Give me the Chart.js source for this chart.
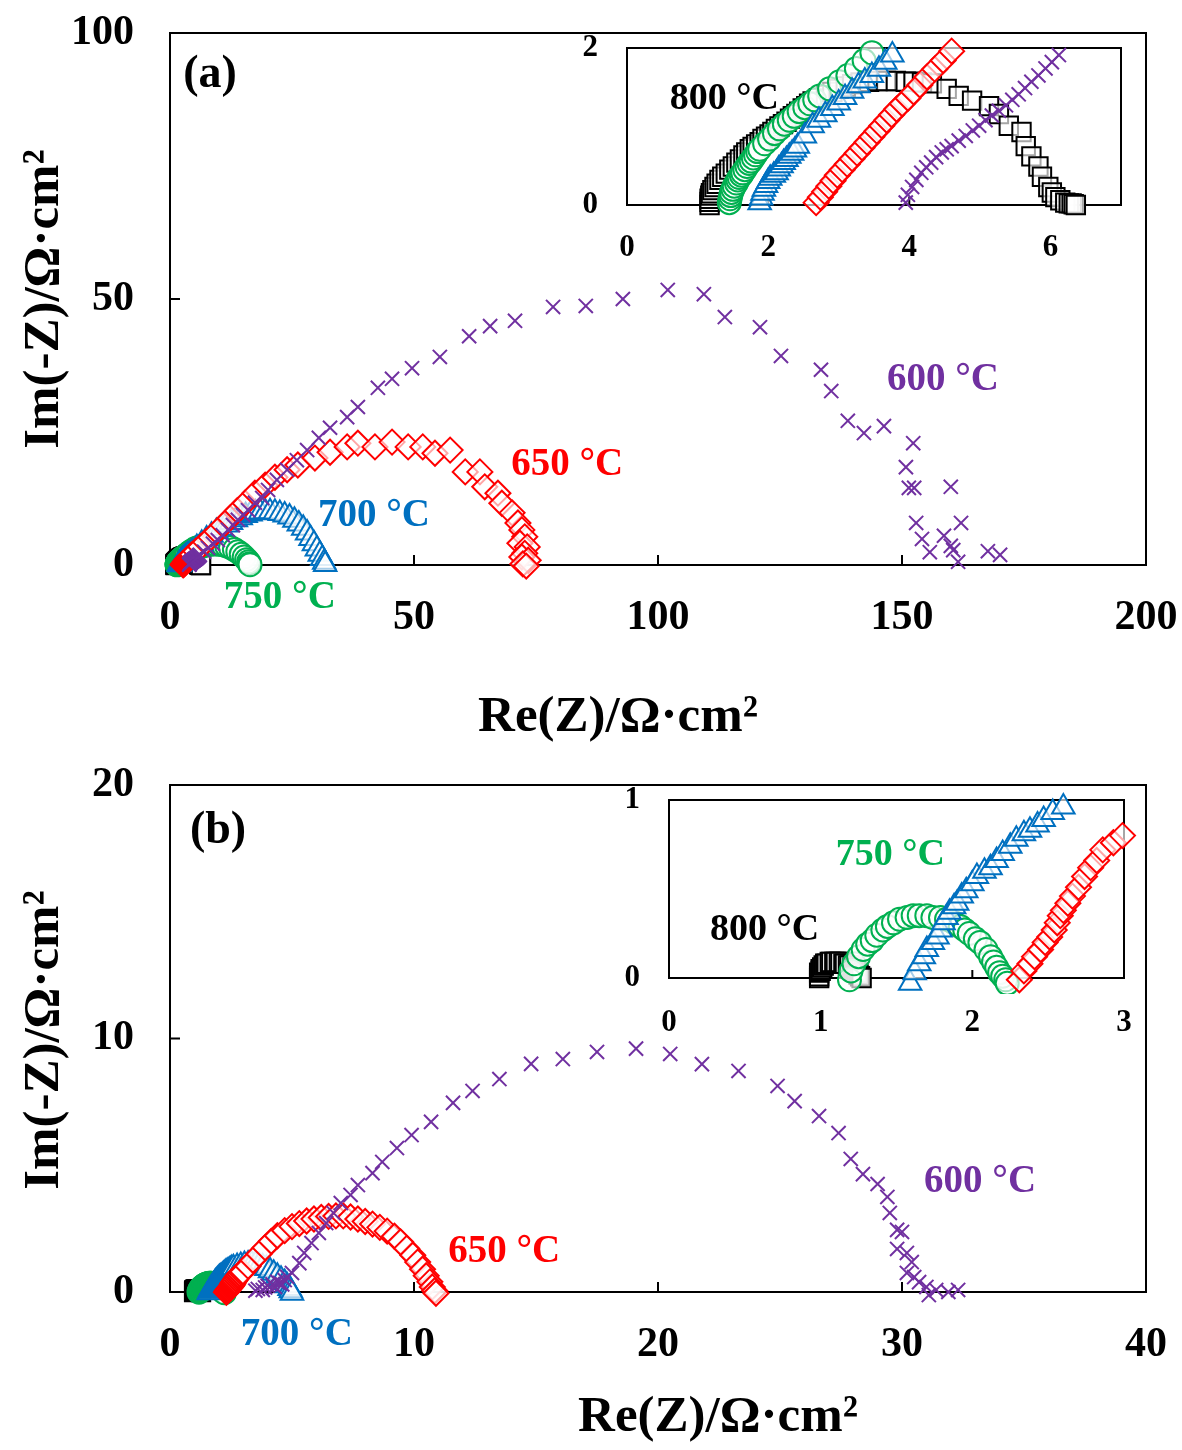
<!DOCTYPE html>
<html>
<head>
<meta charset="utf-8">
<script src="https://cdn.jsdelivr.net/npm/chart.js@4"></script>
<style>
  body { margin: 0; background: #fff; }
  #wrap { position: relative; width: 1182px; height: 1450px; }
  canvas { position: absolute; }
</style>
</head>
<body>
<div id="wrap">
  <canvas id="mainA" width="1182" height="750" style="left:0px;top:0px"></canvas>
  <canvas id="insetA" width="600" height="260" style="left:540px;top:20px"></canvas>
  <canvas id="mainB" width="1182" height="700" style="left:0px;top:750px"></canvas>
  <canvas id="insetB" width="560" height="280" style="left:580px;top:770px"></canvas>
</div>
<script>
const FONT = '"Liberation Serif", "Times New Roman", serif';

// (a) impedance spectra, [Re(Z), Im(-Z)] in ohm cm2
const a800 = [[1.17,0.0],[1.17,0.04],[1.17,0.08],[1.18,0.12],[1.19,0.15],[1.21,0.19],[1.24,0.23],[1.27,0.27],[1.31,0.32],
  [1.35,0.36],[1.40,0.40],[1.45,0.45],[1.50,0.49],[1.55,0.54],[1.60,0.58],[1.65,0.63],[1.69,0.67],[1.74,0.71],[1.78,0.74],
  [1.83,0.77],[1.88,0.80],[1.92,0.84],[1.97,0.87],[2.02,0.90],[2.06,0.93],[2.11,0.97],[2.16,1.00],[2.21,1.03],[2.26,1.06],
  [2.31,1.10],[2.35,1.13],[2.40,1.16],[2.44,1.19],[2.49,1.23],[2.54,1.26],[2.58,1.29],[2.63,1.32],
  [2.72,1.36],[2.82,1.40],[2.91,1.44],[3.00,1.48],[3.10,1.51],[3.19,1.54],[3.31,1.56],[3.43,1.57],[3.55,1.58],[3.67,1.58],
  [3.81,1.58],[3.95,1.57],[4.06,1.57],[4.18,1.56],[4.32,1.55],[4.53,1.48],[4.70,1.39],[4.89,1.33],[5.13,1.26],[5.27,1.16],
  [5.41,1.01],[5.59,0.93],[5.65,0.75],[5.73,0.62],[5.83,0.49],[5.88,0.36],[5.97,0.23],[6.02,0.16],[6.07,0.10],[6.14,0.06],
  [6.21,0.03],[6.26,0.02],[6.30,0.02],[6.33,0.01],[6.36,0.0]];
const a750 = [[1.45,0.03],[1.46,0.08],[1.47,0.12],[1.48,0.16],[1.50,0.20],[1.52,0.24],[1.55,0.28],[1.57,0.32],[1.59,0.35],
  [1.62,0.38],[1.64,0.41],[1.67,0.45],[1.70,0.49],[1.73,0.53],[1.76,0.56],[1.79,0.60],[1.82,0.64],[1.85,0.68],[1.88,0.71],
  [1.95,0.78],[2.02,0.84],[2.09,0.91],[2.16,0.97],[2.23,1.03],[2.30,1.08],[2.37,1.13],[2.44,1.19],[2.52,1.24],
  [2.59,1.29],[2.66,1.34],[2.73,1.39],[2.87,1.48],[3.01,1.57],[3.13,1.65],[3.25,1.74],[3.36,1.84],[3.47,1.94],
  [3.9,2.3],[4.5,2.7],[5.2,3.1],[6.0,3.4],[6.8,3.6],[7.6,3.8],[8.4,3.9],[9.2,3.95],[10.0,3.9],[10.8,3.8],[11.6,3.6],
  [12.4,3.3],[13.2,2.9],[13.9,2.5],[14.6,2.0],[15.2,1.5],[15.7,1.0],[16.1,0.6],[16.3,0.25],[16.4,0.05]];
const a700 = [[1.88,0.03],[1.90,0.09],[1.92,0.15],[1.94,0.20],[1.97,0.25],[2.00,0.30],[2.03,0.34],[2.08,0.38],[2.12,0.41],
  [2.15,0.46],[2.19,0.50],[2.22,0.54],[2.26,0.58],[2.30,0.62],[2.34,0.66],[2.38,0.70],[2.42,0.75],
  [2.52,0.88],[2.63,1.01],[2.72,1.08],[2.81,1.15],[2.91,1.23],[3.00,1.30],[3.09,1.37],[3.19,1.45],[3.28,1.52],[3.37,1.58],
  [3.47,1.65],[3.57,1.73],[3.66,1.82],[3.76,1.91],
  [4.5,2.5],[5.5,3.3],[6.5,4.1],[7.5,4.9],[8.5,5.6],[9.5,6.3],[10.5,6.9],[11.5,7.5],[12.5,8.0],[13.5,8.5],[14.5,8.9],
  [15.5,9.3],[16.5,9.6],[17.5,9.8],[18.5,9.95],[19.5,10.0],[20.5,10.0],[21.5,9.9],[22.5,9.7],[23.5,9.4],[24.5,9.0],
  [25.5,8.4],[26.4,7.7],[27.3,6.9],[28.1,6.0],[28.8,5.0],[29.5,4.0],[30.1,3.0],[30.7,2.0],[31.2,1.2],[31.6,0.5],[31.8,0.1]];
const a650 = [[2.68,0.03],[2.74,0.10],[2.80,0.17],[2.86,0.24],[2.92,0.31],[2.98,0.38],[3.05,0.45],[3.12,0.52],[3.19,0.59],
  [3.26,0.66],[3.33,0.73],[3.40,0.80],[3.47,0.87],[3.54,0.94],[3.61,1.01],[3.68,1.08],[3.75,1.15],[3.82,1.22],[3.90,1.29],
  [3.98,1.36],[4.06,1.44],[4.15,1.53],[4.25,1.63],[4.36,1.73],[4.48,1.84],[4.60,1.96],
  [5.3,2.6],[6.3,3.4],[7.3,4.3],[8.4,5.2],[9.6,6.3],[10.9,7.5],[12.3,8.8],[13.8,10.2],[15.4,11.6],[17.4,13.5],[19.5,15.0],
  [21.5,16.5],[24.0,17.9],[26.2,18.8],[29.7,20.1],[32.8,21.2],[36.3,22.2],[38.5,22.9],[42.0,22.2],[45.5,23.1],[48.8,22.2],
  [51.8,22.2],[54.3,21.0],[57.4,21.6],[60.5,17.5],[63.5,17.5],[64.5,14.7],[67.2,13.5],[68.0,11.6],[70.1,9.8],[71.3,7.9],
  [72.1,6.6],[72.7,5.3],[71.7,4.1],[73.2,3.4],[72.7,2.2],[72.1,1.5],[73.4,0.9],[72.3,0.2],[73.0,-0.2]];
const a600 = [[3.95,0.03],[3.98,0.13],[4.04,0.23],[4.10,0.32],[4.17,0.41],[4.24,0.48],[4.31,0.54],[4.38,0.61],[4.46,0.67],
  [4.53,0.71],[4.60,0.75],[4.70,0.82],[4.80,0.88],[4.90,0.95],[4.99,1.01],[5.08,1.08],[5.17,1.14],[5.27,1.20],[5.37,1.27],
  [5.46,1.34],[5.55,1.41],[5.64,1.49],[5.73,1.57],[5.83,1.65],[5.93,1.74],[6.02,1.82],[6.12,1.91],
  [7.0,2.5],[7.8,3.2],[8.8,4.0],[9.8,4.7],[10.8,5.6],[11.9,6.6],[12.9,7.5],[13.9,8.5],[15.0,9.4],[16.0,10.3],[17.4,11.7],
  [18.9,12.6],[20.1,14.1],[21.9,16.0],[24.0,17.9],[26.0,19.7],[28.1,21.6],[30.5,23.9],[32.8,25.8],[36.3,27.8],[38.5,29.7],
  [42.6,33.3],[45.5,35.0],[49.6,37.0],[55.3,39.1],[61.3,43.0],[65.6,44.9],[70.7,45.9],[78.5,48.5],[85.2,48.7],[92.8,50.0],
  [102.0,51.7],[109.4,50.9],[113.7,46.6],[120.9,44.7],[125.2,39.3],[133.4,36.7],[135.5,32.7],[138.9,27.1],[142.2,24.8],
  [146.3,26.1],[152.3,22.9],[150.8,18.4],[151.4,14.5],[152.5,14.5],[160.0,14.7],[152.9,7.9],[162.1,7.9],[154.1,4.9],
  [158.6,5.5],[155.7,2.4],[160.0,3.6],[160.5,2.8],[161.5,0.6],[167.6,2.6],[170.1,1.9]];

// (b) impedance spectra
const b800 = [[0.99,0.0],[0.99,0.01],[0.99,0.03],[1.00,0.04],[1.00,0.05],[1.01,0.06],[1.02,0.07],[1.03,0.08],[1.04,0.08],
  [1.06,0.09],[1.07,0.09],[1.09,0.09],[1.10,0.09],[1.12,0.09],[1.13,0.09],[1.15,0.08],[1.16,0.08],[1.18,0.07],[1.19,0.07],
  [1.21,0.06],[1.22,0.05],[1.23,0.04],[1.24,0.03],[1.25,0.02],[1.26,0.01],[1.27,0.0]];
const b750 = [[1.19,-0.01],[1.20,0.04],[1.22,0.08],[1.25,0.12],[1.28,0.16],[1.31,0.19],[1.34,0.21],[1.37,0.24],[1.41,0.27],
  [1.44,0.29],[1.48,0.31],[1.52,0.33],[1.57,0.34],[1.61,0.35],[1.65,0.35],[1.70,0.35],[1.74,0.34],[1.79,0.34],[1.83,0.33],
  [1.88,0.31],[1.92,0.29],[1.95,0.27],[1.98,0.25],[2.02,0.22],[2.05,0.20],[2.09,0.16],[2.12,0.12],[2.14,0.09],[2.16,0.06],
  [2.18,0.03],[2.20,0.01],[2.22,-0.01],[2.23,-0.03]];
const b700 = [[1.59,-0.03],[1.62,0.03],[1.65,0.08],[1.68,0.12],[1.70,0.16],[1.74,0.20],[1.77,0.23],[1.79,0.27],[1.81,0.31],
  [1.83,0.34],[1.85,0.37],[1.88,0.40],[1.90,0.42],[1.93,0.46],[1.96,0.49],[2.00,0.53],[2.03,0.57],[2.08,0.60],[2.12,0.62],
  [2.16,0.66],[2.20,0.70],[2.25,0.74],[2.29,0.78],[2.34,0.81],[2.38,0.83],[2.43,0.86],[2.47,0.89],[2.53,0.93],[2.60,0.96],
  [2.75,1.01],[2.9,1.05],[3.05,1.08],[3.2,1.10],[3.35,1.10],[3.5,1.09],[3.65,1.06],[3.8,1.00],[3.95,0.93],[4.1,0.84],
  [4.25,0.74],[4.4,0.62],[4.55,0.50],[4.7,0.37],[4.8,0.25],[4.9,0.14],[4.95,0.05],[5.0,-0.05]];
const b650 = [[2.31,-0.01],[2.34,0.04],[2.38,0.08],[2.41,0.12],[2.45,0.16],[2.48,0.20],[2.51,0.23],[2.54,0.27],[2.56,0.31],
  [2.58,0.35],[2.60,0.38],[2.63,0.42],[2.66,0.46],[2.70,0.51],[2.74,0.57],[2.78,0.62],[2.82,0.66],[2.86,0.72],[2.93,0.76],
  [2.99,0.80],[3.2,1.02],[3.4,1.25],[3.65,1.50],[3.9,1.75],[4.15,2.00],[4.4,2.22],[4.7,2.42],[5.0,2.58],[5.3,2.70],
  [5.6,2.80],[5.9,2.88],[6.2,2.94],[6.5,2.98],[6.8,3.00],[7.1,3.00],[7.4,2.96],[7.7,2.88],[8.0,2.78],[8.3,2.68],[8.6,2.55],
  [8.9,2.40],[9.2,2.20],[9.45,1.98],[9.7,1.72],[9.95,1.45],[10.15,1.18],[10.35,0.90],[10.5,0.64],[10.65,0.40],[10.75,0.20],
  [10.85,0.05],[10.9,-0.05]];
const b600 = [[3.5,0.05],[3.6,0.12],[3.8,0.08],[3.9,0.18],[4.0,0.25],[4.2,0.30],[4.3,0.20],[4.4,0.40],[4.5,0.35],[4.6,0.30],
  [4.7,0.47],[4.8,0.60],[5.0,0.75],[5.3,1.14],[5.5,1.54],[5.8,1.93],
  [6.1,2.33],[6.4,2.72],[6.7,3.12],[7.0,3.51],[7.4,3.83],[7.7,4.22],[8.3,4.69],[8.7,5.13],[9.3,5.68],[9.9,6.19],[10.7,6.71],
  [11.6,7.46],[12.4,7.93],[13.5,8.40],[14.8,9.00],[16.1,9.19],[17.5,9.47],[19.1,9.60],[20.5,9.39],[21.8,8.99],[23.3,8.72],
  [24.9,8.13],[25.6,7.53],[26.6,6.94],[27.4,6.27],[27.9,5.25],[28.4,4.65],[29.0,4.26],[29.4,3.75],[29.5,3.12],[29.8,2.45],
  [30.0,2.37],[29.8,1.70],[30.2,1.54],[30.4,1.18],[30.2,0.75],[30.5,0.59],[30.7,0.39],[31.0,0.20],[31.1,-0.12],[31.4,0.08],
  [31.9,0.0],[32.3,0.08]];

const temps = ['600 °C', '650 °C', '700 °C', '750 °C', '800 °C'];

// marker look per temperature (first one is drawn on top)
const looks = [
  { color: '#7030a0', style: 'crossRot', r: 10 },
  { color: '#ff0000', style: 'rectRot', r: 12.5 },
  { color: '#0070c0', style: 'triangle', r: 13 },
  { color: '#00b050', style: 'circle', r: 11.5 },
  { color: '#000000', style: 'rect', r: 13 }
];

// window = [xMax, yMax]: keep only the points inside the plotted window
function makeSets(series, win) {
  return series.map((pts, i) => ({
    label: temps[i],
    data: pts.filter(p => p[0] <= win[0] && p[1] <= win[1]).map(p => ({ x: p[0], y: p[1] })),
    pointStyle: looks[i].style,
    pointRadius: looks[i].r,
    borderColor: looks[i].color,
    backgroundColor: 'rgba(255,255,255,0.65)',
    borderWidth: 2,
    clip: 16
  }));
}

// closed box + inward tick marks
function framePlugin(len) {
  return {
    id: 'frame',
    beforeDatasetsDraw(chart) {
      const { ctx, chartArea: a, scales } = chart;
      ctx.save();
      ctx.strokeStyle = '#000';
      ctx.lineWidth = 2;
      ctx.strokeRect(a.left, a.top, a.right - a.left, a.bottom - a.top);
      ctx.beginPath();
      scales.x.ticks.forEach(t => {
        const px = scales.x.getPixelForValue(t.value);
        ctx.moveTo(px, a.bottom); ctx.lineTo(px, a.bottom - len);
      });
      scales.y.ticks.forEach(t => {
        const py = scales.y.getPixelForValue(t.value);
        ctx.moveTo(a.left, py); ctx.lineTo(a.left + len, py);
      });
      ctx.stroke();
      ctx.restore();
    }
  };
}

// text notes: at = data position, px = canvas position
function notesPlugin(items) {
  return {
    id: 'notes',
    afterDraw(chart) {
      const { ctx, scales } = chart;
      items.forEach(n => {
        const x = n.at ? scales.x.getPixelForValue(n.at[0]) : n.px[0];
        const y = n.at ? scales.y.getPixelForValue(n.at[1]) : n.px[1];
        ctx.save();
        ctx.font = 'bold ' + n.size + 'px ' + FONT;
        ctx.fillStyle = n.color || '#000';
        ctx.textAlign = 'center';
        ctx.textBaseline = 'middle';
        ctx.translate(x, y);
        if (n.rot) ctx.rotate(-Math.PI / 2);
        ctx.fillText(n.text, 0, 0);
        ctx.restore();
      });
    }
  };
}

function nyquist(id, series, opt) {
  return new Chart(document.getElementById(id), {
    type: 'scatter',
    data: { datasets: makeSets(series, [opt.xMax, opt.yMax]) },
    options: {
      responsive: false,
      animation: false,
      events: [],
      layout: { padding: opt.pad },
      plugins: { legend: { display: false }, tooltip: { enabled: false } },
      scales: {
        x: {
          type: 'linear', min: 0, max: opt.xMax,
          grid: { display: false, drawTicks: false },
          border: { display: false },
          ticks: { stepSize: opt.xStep, includeBounds: false, padding: opt.xPad, color: '#000',
                   font: { family: FONT, size: opt.tickSize, weight: 'bold' } },
          afterFit: s => { s.height = opt.xH; s.paddingLeft = 0; s.paddingRight = 0; }
        },
        y: {
          type: 'linear', min: 0, max: opt.yMax,
          grid: { display: false, drawTicks: false },
          border: { display: false },
          ticks: { stepSize: opt.yStep, includeBounds: false, padding: opt.yPad, color: '#000',
                   font: { family: FONT, size: opt.tickSize, weight: 'bold' } },
          afterFit: s => { s.width = opt.yW; s.paddingTop = 0; s.paddingBottom = 0; }
        }
      }
    },
    plugins: [framePlugin(opt.tickLen), notesPlugin(opt.notes)]
  });
}

const seriesA = [a600, a650, a700, a750, a800];
const seriesB = [b600, b650, b700, b750, b800];

nyquist('mainA', seriesA, {
  pad: { left: 0, top: 33, right: 36, bottom: 0 }, xH: 185, yW: 170,
  xMax: 200, xStep: 50, yMax: 100, yStep: 50, tickSize: 42, xPad: 28, yPad: 36, tickLen: 10,
  notes: [
    { text: '(a)', at: [8.2, 92.1], size: 46 },
    { text: '600 °C', at: [158.4, 34.8], size: 39, color: looks[0].color },
    { text: '650 °C', at: [81.4, 18.8], size: 39, color: looks[1].color },
    { text: '700 °C', at: [41.8, 9.2], size: 39, color: looks[2].color },
    { text: '750 °C', at: [22.5, -6.2], size: 39, color: looks[3].color },
    { text: 'Re(Z)/Ω·cm²', px: [618, 718], size: 51 },
    { text: 'Im(-Z)/Ω·cm²', px: [45, 299], size: 51, rot: true }
  ]
});

nyquist('insetA', seriesA, {
  pad: { left: 0, top: 28, right: 19, bottom: 0 }, xH: 75, yW: 87,
  xMax: 7, xStep: 2, yMax: 2, yStep: 2, tickSize: 31, xPad: 24, yPad: 29, tickLen: 8,
  notes: [
    { text: '800 °C', at: [1.38, 1.35], size: 38, color: looks[4].color }
  ]
});

nyquist('mainB', seriesB, {
  pad: { left: 0, top: 35, right: 36, bottom: 0 }, xH: 158, yW: 170,
  xMax: 40, xStep: 10, yMax: 20, yStep: 10, tickSize: 42, xPad: 28, yPad: 36, tickLen: 10,
  notes: [
    { text: '(b)', at: [1.97, 18.2], size: 46 },
    { text: '600 °C', at: [33.2, 4.34], size: 39, color: looks[0].color },
    { text: '650 °C', at: [13.7, 1.58], size: 39, color: looks[1].color },
    { text: '700 °C', at: [5.2, -1.7], size: 39, color: looks[2].color },
    { text: 'Re(Z)/Ω·cm²', px: [718, 668], size: 51 },
    { text: 'Im(-Z)/Ω·cm²', px: [45, 290], size: 51, rot: true }
  ]
});

nyquist('insetB', seriesB, {
  pad: { left: 0, top: 30, right: 16, bottom: 0 }, xH: 72, yW: 89,
  xMax: 3, xStep: 1, yMax: 1, yStep: 1, tickSize: 31, xPad: 26, yPad: 29, tickLen: 8,
  notes: [
    { text: '750 °C', at: [1.46, 0.69], size: 38, color: looks[3].color },
    { text: '800 °C', at: [0.63, 0.27], size: 38, color: looks[4].color }
  ]
});
</script>
</body>
</html>
